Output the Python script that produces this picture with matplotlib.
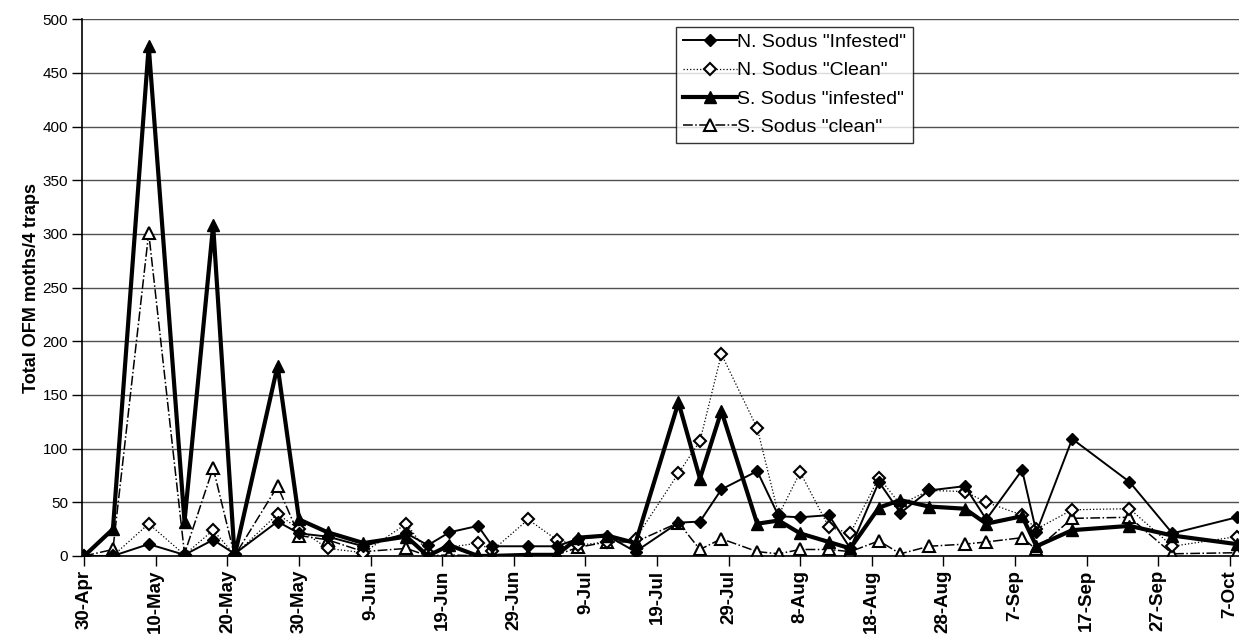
import numpy as np
import matplotlib
matplotlib.use('Agg')
import matplotlib.pyplot as plt
import matplotlib.dates as mdates
from datetime import datetime, timedelta

plt.rcParams['font.family'] = ['Liberation Sans', 'DejaVu Sans']

#%% data

dates = ['30-Apr', '4-May', '9-May', '14-May', '18-May', '21-May', '27-May', '30-May',
         '3-Jun', '8-Jun', '14-Jun', '17-Jun', '20-Jun', '24-Jun', '26-Jun', '1-Jul',
         '5-Jul', '8-Jul', '12-Jul', '16-Jul', '22-Jul', '25-Jul', '28-Jul', '2-Aug',
         '5-Aug', '8-Aug', '12-Aug', '15-Aug', '19-Aug', '22-Aug', '26-Aug', '31-Aug',
         '3-Sep', '8-Sep', '10-Sep', '15-Sep', '23-Sep', '29-Sep', '8-Oct']

n_infested = [0, 0, 11, 1, 15, 2, 32, 21, 18, 9, 21, 10, 22, 28, 9, 9,
              9, 16, 19, 4, 31, 32, 62, 79, 37, 36, 38, 7, 69, 40, 61, 65,
              34, 80, 22, 109, 69, 21, 36]
n_clean = [0, 0, 30, 1, 24, 1, 39, 25, 7, 3, 30, 3, 8, 12, 5, 34,
           15, 10, 13, 16, 77, 107, 188, 119, 38, 78, 27, 21, 73, 48, 61, 60,
           50, 38, 25, 43, 44, 9, 18]
s_infested = [0, 25, 475, 32, 308, 0, 177, 34, 22, 12, 18, 0, 10, 0, 0, 1,
              1, 17, 19, 12, 143, 72, 135, 30, 33, 21, 13, 7, 45, 52, 46, 44,
              30, 37, 9, 24, 28, 19, 11]
s_clean = [0, 6, 301, 2, 82, 0, 65, 19, 15, 4, 7, 0, 1, 0, 0, 0,
           1, 8, 13, 13, 31, 6, 16, 4, 2, 6, 6, 4, 14, 2, 9, 11,
           13, 17, 6, 35, 36, 2, 3]

labels = ['N. Sodus "Infested"', 'N. Sodus "Clean"', 'S. Sodus "infested"', 'S. Sodus "clean"']
yticks = list(range(0, 501, 50))

#%% plot

x = [datetime.strptime(d + '-2003', '%d-%b-%Y') for d in dates]
start = datetime(2003, 4, 30)

fig = plt.figure(figsize=(12.39, 6.39), dpi=100)
ax = fig.add_axes([0.066, 0.130, 0.934, 0.840])

for y in yticks:
    ax.axhline(y, color='#505050', lw=1.0, zorder=0)

ax.plot(x, n_infested, '-', color='black', lw=1.4, marker='D', ms=6.5,
        mfc='black', mec='black', label=labels[0], zorder=4)
ax.plot(x, n_clean, ':', color='black', lw=0.9, marker='D', ms=6.5,
        mfc='white', mec='black', mew=1.5, label=labels[1], zorder=3)
ax.plot(x, s_infested, '-', color='black', lw=3.0, marker='^', ms=9,
        mfc='black', mec='black', label=labels[2], zorder=5)
ax.plot(x, s_clean, '-.', color='black', lw=1.1, marker='^', ms=8.5,
        mfc='white', mec='black', mew=1.5, label=labels[3], zorder=2)

ax.set_ylim(0, 500)
ax.set_yticks(yticks)
ax.set_xlim(start - timedelta(days=0.35), start + timedelta(days=161.3))
ax.set_xticks([start + timedelta(days=10 * i) for i in range(17)])
ax.xaxis.set_major_formatter(mdates.DateFormatter('%-d-%b'))

for lab in ax.get_xticklabels():
    lab.set_rotation(90)
    lab.set_fontweight('bold')
    lab.set_fontsize(13.5)
for lab in ax.get_yticklabels():
    lab.set_fontsize(11)

ax.tick_params(axis='both', direction='out', length=7, width=1, color='black', pad=3)
ax.spines['top'].set_visible(False)
ax.spines['right'].set_visible(False)
ax.spines['left'].set_linewidth(1.2)
ax.spines['bottom'].set_linewidth(1.2)

ax.set_ylabel('Total OFM moths/4 traps', fontsize=13, fontweight='bold', labelpad=2)

leg = ax.legend(loc='upper left', bbox_to_anchor=(0.5135, 0.986), borderaxespad=0,
                fontsize=14, frameon=True, fancybox=False, handlelength=2.8,
                handletextpad=0.0, borderpad=0.35, labelspacing=0.55)
leg.get_frame().set_edgecolor('black')
leg.get_frame().set_linewidth(1.0)

fig.savefig('out.png', dpi=100)
